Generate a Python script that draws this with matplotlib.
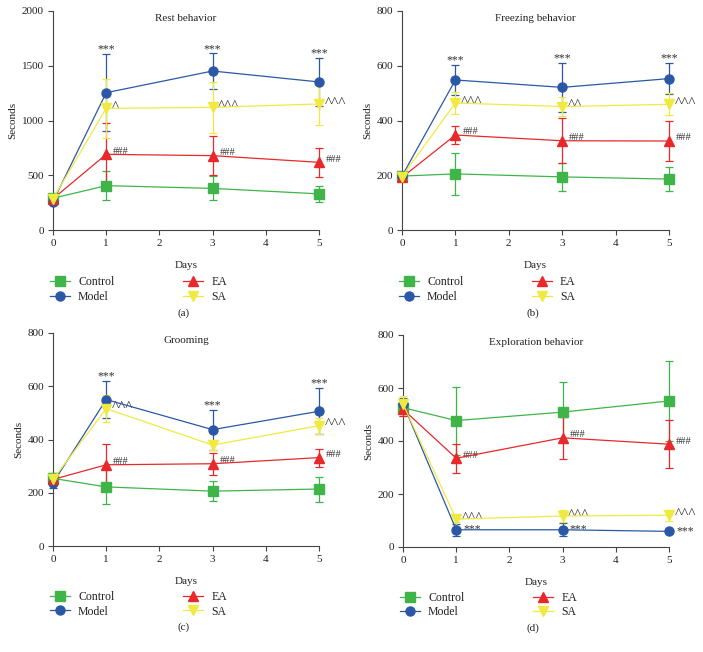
import matplotlib
matplotlib.use("Agg")
import matplotlib.pyplot as plt
from matplotlib.lines import Line2D
import numpy as np

plt.rcParams['font.family'] = ['Liberation Serif', 'DejaVu Serif']

days = [0, 1, 3, 5]
groups = ["Control", "Model", "EA", "SA"]
colors = {"Control": "#3fb549", "Model": "#2b58a6", "EA": "#e8282b", "SA": "#f0ea40"}
markers = {"Control": "s", "Model": "o", "EA": "^", "SA": "v"}

# (a) Rest behavior
rest_mean = {"Control": [290, 405, 380, 330], "Model": [260, 1254, 1452, 1352],
             "EA": [285, 691, 679, 618], "SA": [285, 1111, 1120, 1151]}
rest_err = {"Control": [20, 130, 110, 75], "Model": [20, 350, 160, 220],
            "EA": [20, 290, 175, 130], "SA": [20, 270, 230, 190]}
# (b) Freezing behavior
freeze_mean = {"Control": [197, 205, 194, 186], "Model": [197, 548, 521, 553],
               "EA": [192, 347, 326, 325], "SA": [195, 464, 451, 459]}
freeze_err = {"Control": [10, 78, 50, 45], "Model": [10, 55, 90, 58],
              "EA": [10, 34, 82, 72], "SA": [10, 40, 35, 40]}
# (c) Grooming
groom_mean = {"Control": [254, 222, 206, 214], "Model": [237, 550, 437, 506],
              "EA": [250, 305, 309, 332], "SA": [250, 516, 379, 452]}
groom_err = {"Control": [20, 66, 38, 47], "Model": [20, 70, 75, 87],
             "EA": [15, 78, 42, 34], "SA": [15, 50, 20, 30]}
# (d) Exploration behavior
explo_mean = {"Control": [526, 477, 509, 551], "Model": [541, 65, 65, 59],
              "EA": [520, 335, 412, 388], "SA": [540, 105, 117, 120]}
explo_err = {"Control": [30, 128, 113, 152], "Model": [20, 22, 25, 5],
             "EA": [25, 55, 80, 90], "SA": [30, 12, 22, 20]}

titles = ["Rest behavior", "Freezing behavior", "Grooming", "Exploration behavior"]
panel_labels = ["(a)", "(b)", "(c)", "(d)"]
ymaxes = [2000, 800, 800, 800]
ysteps = [500, 200, 200, 200]
sig_model = "***"
sig_ea = "###"
sig_sa_a = ["^", "^^^", "^^^"]
sig_sa_b = ["^^^", "^^", "^^^"]
sig_sa_c = ["^^^", "", "^^^"]
sig_sa_d = ["^^^", "^^^", "^^^"]

fig = plt.figure(figsize=(7.03, 6.52), dpi=100)
positions = [
    [53/703, 1-230/652, 266/703, 219/652],
    [402/703, 1-230/652, 267/703, 219/652],
    [53/703, 1-546/652, 266/703, 213/652],
    [403/703, 1-547/652, 266/703, 212/652],
]
datasets = [(rest_mean, rest_err, sig_sa_a), (freeze_mean, freeze_err, sig_sa_b),
            (groom_mean, groom_err, sig_sa_c), (explo_mean, explo_err, sig_sa_d)]

fs = 8
txt = "#333333"
for i, (pos, (mean, err, sa_sig)) in enumerate(zip(positions, datasets)):
    ax = fig.add_axes(pos)
    for g in groups:
        ax.errorbar(days, mean[g], yerr=err[g], color=colors[g], marker=markers[g],
                    ms=6.5, lw=0.9, elinewidth=0.9, capsize=3, capthick=0.9,
                    label=g, clip_on=False, zorder=3)
    ax.set_xlim(0, 5)
    ax.set_ylim(0, ymaxes[i])
    ax.set_xticks([0, 1, 2, 3, 4, 5])
    ax.set_yticks(np.arange(0, ymaxes[i] + 1, ysteps[i]))
    for s in ["top", "right"]:
        ax.spines[s].set_visible(False)
    for s in ["left", "bottom"]:
        ax.spines[s].set_color("#444444")
        ax.spines[s].set_linewidth(0.8)
    ax.tick_params(direction="out", length=3.5, width=0.8, color="#444444",
                   labelsize=fs, pad=3, labelcolor="#222222")
    ax.set_xlabel("Days", fontsize=fs, labelpad=9, color="#222222")
    ax.set_ylabel("Seconds", fontsize=fs, labelpad=3, color="#222222")
    ax.set_title(titles[i], fontsize=fs, pad=-7, y=1.0, color="#222222")
    # significance annotations
    for j, d in enumerate(days[1:], start=1):
        if i < 3:
            ax.annotate(sig_model, (d, mean["Model"][j] + err["Model"][j]),
                        xytext=(0, -1), textcoords="offset points",
                        ha="center", va="bottom", fontsize=fs + 0.5, color=txt)
        else:
            ax.annotate(sig_model, (d, mean["Model"][j]),
                        xytext=(5, -4), textcoords="offset points",
                        ha="left", va="bottom", fontsize=fs + 0.5, color=txt)
        ax.annotate(sig_ea, (d, mean["EA"][j]), xytext=(5, -1),
                    textcoords="offset points", ha="left", va="bottom",
                    fontsize=fs - 0.5, color=txt)
        if sa_sig[j - 1]:
            ax.annotate(sa_sig[j - 1], (d, mean["SA"][j]), xytext=(4, -4),
                        textcoords="offset points", ha="left", va="bottom",
                        fontsize=fs + 3, color=txt)
    handles = [Line2D([], [], color=colors[g], marker=markers[g], ms=6.5, lw=0.9)
               for g in groups]
    ax.legend(handles, groups, loc="upper left", bbox_to_anchor=(-0.03, -0.19),
              ncol=2, frameon=False, fontsize=fs + 0.5, handlelength=1.7,
              columnspacing=5.8, labelspacing=0.2, handletextpad=0.7,
              borderaxespad=0, labelcolor="#222222")
    ax.text(0.49, -0.36, panel_labels[i], transform=ax.transAxes, ha="center",
            va="top", fontsize=fs, color="#222222")

fig.savefig("out.png", dpi=100)
